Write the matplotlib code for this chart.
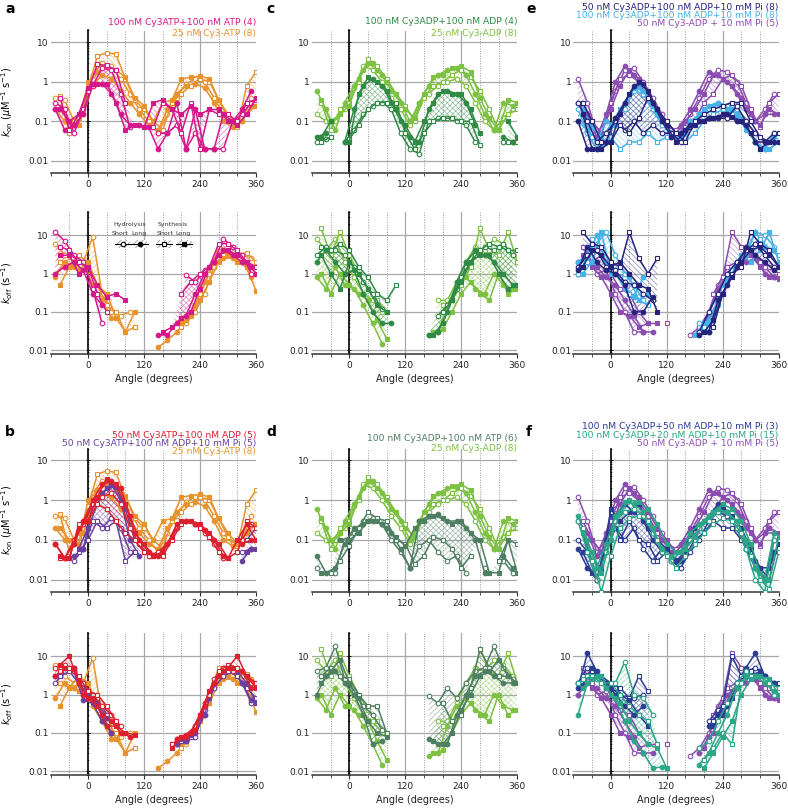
import numpy as np
import matplotlib
matplotlib.use('Agg')
import matplotlib.pyplot as plt
from matplotlib.patches import Rectangle
from matplotlib.ticker import FixedLocator, FixedFormatter, NullLocator, NullFormatter
from numpy import nan

plt.rcParams['font.family'] = ['DejaVu Sans']
plt.rcParams['hatch.linewidth'] = 0.6

# angle grids: hydrolysis (circles) and synthesis (squares)
ang_h = [-70, -50, -30, -10, 10, 30, 50, 70, 90, 110, 130, 150, 170, 190, 210, 230, 250, 270, 290, 310, 330, 350]
ang_s = [-60, -40, -20, 0, 20, 40, 60, 80, 100, 120, 140, 160, 180, 200, 220, 240, 260, 280, 300, 320, 340, 360]

# ---- 25 nM Cy3-ATP (orange)
ora_on_hs = [0.4, 0.35, 0.1, 0.2, 1.5, 3.0, 2.5, 1.2, 0.5, 0.2, 0.1, 0.05, 0.15, 0.4, 0.9, 1.2, 1.0, 0.4, 0.15, 0.08, 0.1, 0.4]
ora_on_hl = [0.2, 0.1, 0.08, 0.15, 0.8, 1.5, 1.2, 0.6, 0.3, 0.15, 0.08, 0.06, 0.2, 0.5, 0.8, 0.9, 0.7, 0.3, 0.1, 0.07, 0.1, 0.25]
ora_on_ss = [0.45, 0.05, 0.12, 0.7, 4.5, 5.5, 5.0, 1.2, 0.35, 0.2, 0.1, 0.06, 0.3, 0.5, 0.8, 1.2, 1.0, 0.35, 0.12, 0.07, 0.8, 1.8]
ora_on_sl = [0.2, 0.1, 0.08, 1.0, 1.8, 2.5, 2.0, 1.3, 0.4, 0.25, 0.1, 0.3, 0.35, 1.2, 1.3, 1.4, 1.2, 0.35, 0.15, 0.08, 0.15, 0.25]
ora_off_hs = [6, 3, 2, 2, 9, 0.3, 0.1, 0.08, 0.1, nan, nan, nan, nan, nan, 0.05, 0.1, 0.3, 1.5, 3, 5, 3, 2.5]
ora_off_hl = [0.8, 2, 1.5, 2, 0.5, 0.2, 0.07, nan, nan, nan, nan, 0.012, 0.018, 0.03, 0.06, 0.15, 0.6, 2, 2.5, 2.5, 2, 0.8]
ora_off_ss = [2, 1.5, 3, 2, 0.5, 0.15, 0.1, 0.03, 0.04, nan, nan, nan, nan, 0.04, 0.08, 0.3, 1, 5, 4, 3, 3.5, 2]
ora_off_sl = [0.5, 1.5, 1.2, 2, 0.5, 0.3, 0.07, 0.03, 0.1, nan, nan, nan, nan, 0.05, 0.08, 0.2, 0.6, 2, 3, 2, 1.5, 0.35]

# ---- 100 nM Cy3ATP+100 nM ATP (magenta)
mag_on_hs = [0.3, 0.2, 0.05, 0.2, 0.8, 2.2, 2.0, 0.5, 0.07, nan, nan, 0.05, 0.05, 0.08, 0.02, 0.05, 0.02, 0.02, 0.02, 0.1, 0.15, 0.3]
mag_on_hl = [0.2, 0.06, 0.08, 0.15, 0.9, 0.9, 0.5, 0.15, 0.08, 0.08, 0.07, 0.02, 0.05, 0.3, 0.02, 0.2, 0.02, 0.02, 0.15, 0.1, 0.2, 0.6]
mag_on_ss = [0.4, 0.06, 0.15, 0.6, 2.8, 2.6, 2.0, 0.3, nan, 0.07, 0.07, 0.3, 0.2, 0.05, 0.3, 0.02, 0.2, 0.15, 0.15, 0.1, 0.3, 0.35]
mag_on_sl = [0.2, 0.1, 0.15, 0.7, 0.9, 0.9, 0.3, 0.06, 0.08, 0.07, 0.3, 0.35, 0.2, 0.15, 0.25, 0.15, 0.2, 0.2, 0.1, 0.08, 0.15, 0.4]
mag_off_hs = [12, 7, 3, 2, 0.4, 0.05, nan, nan, nan, nan, nan, nan, nan, nan, 0.9, 0.6, 1.2, 2, 8, 5, 3, 1]
mag_off_hl = [1, 1.5, 2, 1.2, 0.3, 0.15, nan, nan, nan, nan, nan, 0.025, 0.025, 0.05, 0.08, 0.3, 1, 2, 4, 3, 2, 1.5]
mag_off_ss = [5, 4, 2, 1.5, 0.3, 0.1, nan, nan, nan, nan, nan, nan, nan, 0.3, 0.6, 1, 1.5, 6, 6, 4, 2, 1.5]
mag_off_sl = [3, 3, 1, 1.5, 0.5, 0.25, 0.3, 0.2, nan, nan, nan, 0.03, 0.04, 0.07, 0.1, 0.4, 1.5, 3, 4, 3, 2, 1]

# ---- 50 nM Cy3ATP+100 nM ADP (red)
red_on_hs = [0.08, 0.035, 0.1, 0.25, 0.8, 1.2, 1.5, 0.8, 0.2, 0.08, 0.04, 0.05, 0.08, 0.2, 0.3, 0.25, 0.15, 0.08, 0.035, nan, 0.1, 0.25]
red_on_hl = [0.08, 0.035, 0.08, 0.3, 1.0, 2.5, 3.0, 2.0, 0.4, 0.1, 0.05, 0.04, 0.08, 0.25, 0.3, 0.25, 0.18, 0.1, 0.04, nan, 0.08, 0.1]
red_on_ss = [0.035, 0.035, 0.25, 0.3, 0.8, 0.6, 0.3, 0.15, 0.1, 0.05, 0.04, 0.04, 0.1, 0.25, 0.3, 0.2, 0.12, 0.05, 0.035, 0.05, 0.3, 0.2]
red_on_sl = [0.04, 0.035, 0.2, 0.3, 1.2, 3.5, 2.5, 0.8, 0.15, 0.08, 0.04, 0.05, 0.12, 0.3, 0.3, 0.25, 0.15, 0.08, 0.035, 0.1, 0.25, 0.1]
red_off_hs = [5, 6, 4, 2, 1, 0.5, 0.3, 0.15, nan, nan, nan, nan, nan, 0.07, 0.09, 0.15, 0.6, 2.5, 5, 4, 4, 2]
red_off_hl = [3, 5, 5, 1, 0.8, 0.3, 0.2, 0.1, 0.08, nan, nan, nan, nan, 0.07, 0.08, 0.12, 0.5, 2, 4, 5, 4, 1.5]
red_off_ss = [4, 5, 3, 1.2, 1, 0.5, 0.2, nan, nan, nan, nan, nan, 0.05, 0.08, 0.1, 0.3, 1, 4, 6, 5, 3, 2]
red_off_sl = [6, 10, 2, 0.8, 0.5, 0.15, 0.15, 0.1, 0.09, nan, nan, nan, 0.04, 0.08, 0.1, 0.3, 1.2, 3, 5, 10, 3, 1.5]

# ---- 50 nM Cy3ATP+100 nM ADP+10 mM Pi (violet)
vio_on_hs = [nan, nan, 0.03, 0.06, 0.3, 0.2, 0.35, 0.2, 0.05, nan, nan, nan, nan, nan, nan, nan, nan, nan, nan, nan, 0.05, 0.06]
vio_on_hl = [nan, nan, 0.04, 0.06, 0.8, 1.5, 2.5, 1.0, 0.1, 0.04, nan, nan, nan, nan, nan, nan, nan, nan, nan, nan, 0.03, 0.06]
vio_on_ss = [nan, nan, 0.05, 0.1, 0.3, 0.2, 0.3, 0.03, 0.05, nan, nan, nan, nan, nan, nan, nan, nan, nan, nan, nan, 0.1, 0.2]
vio_on_sl = [nan, nan, 0.06, 0.2, 0.8, 2.0, 2.2, 0.6, 0.1, 0.05, nan, nan, nan, nan, nan, nan, nan, nan, nan, nan, 0.05, 0.06]
vio_off_hs = [2, 4, 5, 1.5, 1, 0.3, 0.1, nan, nan, nan, nan, nan, nan, 0.05, 0.06, 0.08, 0.4, 1.5, 3, 4, 2, 0.6]
vio_off_hl = [3, 5, 4, 0.7, 0.6, 0.2, 0.1, nan, nan, nan, nan, nan, nan, 0.05, 0.06, 0.1, 0.3, 2, 5, 4, 2, 0.7]
vio_off_ss = [3, 4, 2, 1, 0.8, 0.3, nan, nan, nan, nan, nan, nan, 0.05, 0.06, 0.08, 0.3, 1, 3, 4, 3, 1.5, 0.8]
vio_off_sl = [4, 5, 3, 1, 0.6, 0.25, nan, nan, nan, nan, nan, nan, 0.05, 0.07, 0.09, 0.25, 0.8, 3, 5, 4, 2, 0.6]

# ---- 100 nM Cy3ADP+100 nM ADP (dark green)
dg_on_hs = [0.03, 0.035, nan, 0.03, 0.06, 0.15, 0.25, 0.3, 0.2, 0.05, 0.02, 0.015, 0.1, 0.12, 0.12, 0.1, 0.08, 0.03, nan, nan, 0.03, 0.03]
dg_on_hl = [0.04, 0.05, nan, 0.03, 0.2, 0.8, 1.2, 0.8, 0.3, 0.1, 0.04, 0.03, 0.2, 0.5, 0.6, 0.5, 0.3, 0.08, nan, nan, 0.04, 0.03]
dg_on_ss = [0.03, 0.04, nan, 0.035, 0.08, 0.2, 0.3, 0.3, 0.3, 0.05, 0.02, 0.05, 0.1, 0.12, 0.12, 0.1, 0.1, 0.025, nan, nan, 0.03, 0.03]
dg_on_sl = [0.04, 0.1, nan, 0.03, 0.5, 1.3, 1.0, 0.6, 0.2, 0.08, 0.03, 0.1, 0.3, 0.6, 0.5, 0.5, 0.2, 0.05, nan, nan, 0.1, 0.04]
dg_off_hs = [3, 5, 4, 3, 1.5, 0.6, 0.3, 0.12, nan, nan, nan, nan, nan, 0.08, 0.15, 0.4, 1.5, 3, 5, 4, 6, 3]
dg_off_hl = [2, 4, 2, 1, 1.2, 0.3, 0.1, 0.05, 0.05, nan, nan, nan, 0.025, 0.03, 0.1, 0.6, 2, 4, 3, 2, 1, 0.5]
dg_off_ss = [5, 4, 6, 4, 1.5, 0.8, 0.3, 0.2, 0.5, nan, nan, nan, nan, 0.1, 0.2, 0.8, 2, 4, 6, 5, 4, 4]
dg_off_sl = [3, 1, 0.4, 2, 1, 0.4, 0.15, 0.1, nan, nan, nan, nan, 0.025, 0.05, 0.2, 0.6, 2, 3, 3, 1, 0.4, 0.5]

# ---- 25 nM Cy3-ADP (light green)
lg_on_hs = [0.15, 0.1, 0.1, 0.2, 0.7, 2.5, 2.0, 1.0, 0.4, 0.2, 0.08, 0.3, 0.5, 0.8, 1.0, 1.2, 0.8, 0.3, 0.1, 0.06, 0.12, 0.2]
lg_on_hl = [0.6, 0.2, 0.06, 0.3, 0.8, 2.0, 3.0, 1.5, 0.6, 0.3, 0.1, 0.3, 0.8, 1.5, 2.0, 2.2, 1.5, 0.5, 0.15, 0.06, 0.3, 0.25]
lg_on_ss = [0.3, 0.06, 0.2, 0.3, 1.0, 3.8, 2.5, 1.2, 0.5, 0.25, 0.1, 0.4, 0.8, 1.0, 1.5, 2.0, 1.3, 0.6, 0.2, 0.06, 0.15, 0.2]
lg_on_sl = [0.35, 0.1, 0.15, 0.25, 1.2, 3.0, 2.0, 1.0, 0.5, 0.2, 0.12, 0.5, 1.3, 1.5, 2.3, 2.5, 1.8, 0.4, 0.12, 0.06, 0.35, 0.3]
lg_off_hs = [8, 4, 8, 2, 0.8, 0.3, 0.2, 0.1, nan, nan, nan, nan, nan, 0.2, 0.2, 0.6, 2, 5, 4, 8, 6, 3]
lg_off_hl = [0.8, 0.4, 1.5, 0.5, 0.4, 0.15, 0.05, 0.015, nan, nan, nan, nan, 0.025, 0.03, 0.15, 0.5, 0.8, 0.4, 0.3, 1, 0.5, 0.4]
lg_off_ss = [15, 3, 12, 3, 1, 0.4, 0.2, 0.1, nan, nan, nan, nan, nan, 0.15, 0.2, 0.5, 1.5, 15, 4, 3, 12, 2]
lg_off_sl = [1, 0.3, 1, 0.5, 0.3, 0.2, 0.06, 0.02, nan, nan, nan, nan, 0.03, 0.035, 0.1, 0.3, 0.6, 0.3, 0.2, 1, 0.3, 0.4]

# ---- 100 nM Cy3ADP+100 nM ATP (grey green)
gg_on_hs = [0.02, nan, 0.015, 0.1, 0.15, 0.3, 0.35, 0.25, 0.1, 0.05, 0.02, 0.07, 0.1, 0.05, 0.03, 0.04, 0.015, nan, 0.02, nan, 0.03, 0.015]
gg_on_hl = [0.04, 0.015, 0.02, 0.08, 0.2, 0.25, 0.3, 0.25, 0.15, 0.06, 0.02, 0.3, 0.4, 0.45, 0.3, 0.3, 0.2, 0.1, 0.015, nan, 0.04, 0.02]
gg_on_ss = [nan, 0.015, 0.03, 0.07, 0.2, 0.5, 0.35, 0.3, 0.1, 0.08, 0.025, 0.04, 0.12, 0.1, 0.06, 0.02, 0.04, nan, nan, 0.03, 0.1, 0.08]
gg_on_sl = [0.015, nan, 0.1, 0.1, 0.15, 0.3, 0.3, 0.2, 0.12, 0.07, 0.2, 0.3, 0.4, 0.35, 0.25, 0.3, 0.15, 0.1, 0.015, 0.015, 0.1, 0.015]
gg_off_hs = [4, 5, 18, 2.5, 1.2, 0.5, 0.3, 0.12, nan, nan, nan, nan, 0.9, 0.6, 1.5, 0.8, 2, 4, 5, 18, 5, 2.5]
gg_off_hl = [1, 3, 4, 2, 1, 0.3, 0.05, 0.06, nan, nan, nan, nan, 0.07, 0.05, 0.05, 0.3, 1, 3, 4, 3, 2, 2]
gg_off_ss = [3, 5, 3, 2.5, 1, 0.5, 0.5, 0.1, nan, nan, nan, nan, nan, 0.6, 0.2, 0.3, 1.5, 15, 5, 3, 3, 2]
gg_off_sl = [2, 4, 8, 2, 0.8, 0.2, 0.1, 0.08, nan, nan, nan, nan, 0.06, 0.05, 0.1, 0.4, 1, 3, 4, 8, 3, 2]

# ---- 50 nM Cy3ADP+100 nM ADP+10 mM Pi (navy)
nv_on_hs = [0.3, 0.1, 0.03, 0.05, 0.1, 0.06, 0.1, 0.05, 0.08, 0.05, 0.05, 0.03, 0.07, 0.1, 0.12, 0.12, 0.12, 0.25, 0.1, 0.05, 0.03, 0.05]
nv_on_hl = [0.1, 0.02, 0.02, 0.03, 0.12, 0.3, 0.8, 0.9, 0.3, 0.1, 0.04, 0.05, 0.08, 0.1, 0.12, 0.13, 0.15, 0.1, 0.08, 0.03, 0.03, 0.03]
nv_on_ss = [0.3, 0.1, 0.03, 0.03, 0.08, 0.05, 0.12, 0.4, 0.2, 0.1, 0.05, 0.03, 0.1, 0.15, 0.2, 0.25, 0.3, 0.3, 0.1, 0.04, 0.03, 0.05]
nv_on_sl = [0.15, 0.02, 0.02, 0.03, 0.15, 0.5, 1.0, 0.6, 0.2, 0.08, 0.03, 0.06, 0.08, 0.1, 0.12, 0.15, 0.13, 0.1, 0.05, 0.02, 0.03, 0.03]
nv_off_hs = [1.5, 3, 4, 1.5, 1.2, 0.6, 0.5, 0.3, 0.2, nan, nan, nan, nan, 0.03, 0.1, 0.3, 1.0, 2, 4, 6, 3, 1.5]
nv_off_hl = [1.2, 5, 2, 1.2, 1, 0.5, 0.1, 0.1, 0.25, nan, nan, nan, nan, 0.025, 0.03, 0.2, 0.5, 1.5, 5, 3, 2, 1.2]
nv_off_ss = [12, 6, 5, 2, 1.5, 12, 2.5, 1, 2.5, nan, nan, nan, nan, nan, 0.04, 0.3, 1, 1.5, 12, 6, 4, 1.5]
nv_off_sl = [1.5, 4, 3, 1.5, 2, 1, 0.5, 0.4, 0.1, nan, nan, nan, nan, 0.03, 0.06, 0.3, 0.8, 2, 4, 5, 3, 1.5]

# ---- 100 nM Cy3ADP+100 nM ADP+10 mM Pi (light blue)
lb_on_hs = [0.2, 0.05, 0.02, 0.03, 0.1, 0.2, 0.6, 0.5, 0.2, 0.08, 0.05, 0.05, 0.08, 0.15, 0.2, 0.3, 0.25, 0.2, 0.08, 0.03, 0.02, 0.05]
lb_on_hl = [0.1, 0.06, 0.03, 0.1, 0.08, 0.3, 0.7, 0.6, 0.25, 0.1, 0.04, 0.04, 0.1, 0.15, 0.25, 0.3, 0.2, 0.15, 0.06, 0.03, 0.02, 0.04]
lb_on_ss = [0.15, 0.04, 0.02, 0.04, 0.02, 0.03, 0.03, 0.05, 0.03, 0.04, 0.05, 0.03, 0.05, 0.1, 0.15, 0.2, 0.15, 0.1, 0.05, 0.02, 0.02, 0.03]
lb_on_sl = [0.2, 0.07, 0.04, 0.08, 0.2, 0.5, 0.8, 0.4, 0.15, 0.07, 0.04, 0.05, 0.1, 0.2, 0.25, 0.25, 0.2, 0.12, 0.05, 0.02, 0.02, 0.03]
lb_off_hs = [1, 2, 6, 12, 3, 1, 0.5, 0.2, nan, nan, nan, nan, nan, 0.05, 0.03, 0.3, 0.8, 2, 4, 12, 10, 5]
lb_off_hl = [2, 3, 10, 2, 1, 0.4, 0.25, 0.8, nan, nan, nan, nan, nan, 0.03, 0.05, 0.15, 0.7, 2, 3, 12, 5, 4]
lb_off_ss = [1.5, 8, 3, 1.5, 0.8, 0.3, 0.2, 0.15, nan, nan, nan, nan, nan, 0.04, 0.1, 0.4, 1.2, 3, 5, 8, 4, 3]
lb_off_sl = [1, 2, 12, 1, 1.5, 0.8, 0.2, 0.3, nan, nan, nan, nan, 0.025, 0.05, 0.1, 0.3, 1, 3, 2, 4, 12, 2]

# ---- 50 nM Cy3-ADP + 10 mM Pi (purple)
pu_on_hs = [1.2, 0.3, 0.05, 0.1, 0.6, 2.0, 2.2, 1.0, 0.4, 0.15, 0.06, 0.05, 0.15, 0.4, 1.2, 2.0, 1.8, 1.0, 0.3, 0.1, 0.2, 0.5]
pu_on_hl = [0.3, 0.15, 0.04, 0.15, 1.0, 2.5, 1.5, 0.5, 0.2, 0.1, 0.05, 0.08, 0.2, 0.6, 1.8, 1.5, 1.0, 0.5, 0.2, 0.1, 0.15, 0.15]
pu_on_ss = [0.3, 0.1, 0.05, 0.3, 1.2, 1.5, 1.0, 0.4, 0.15, 0.08, 0.06, 0.07, 0.1, 0.3, 0.5, 1.2, 1.5, 0.8, 0.2, 0.07, 0.3, 0.5]
pu_on_sl = [0.2, 0.1, 0.05, 0.2, 0.8, 2.0, 1.2, 0.5, 0.2, 0.1, 0.05, 0.1, 0.2, 0.5, 1.5, 1.2, 0.8, 0.4, 0.15, 0.08, 0.2, 0.15]
pu_off_hs = [2, 3, 1, 1.2, 0.3, 0.1, 0.03, 0.03, nan, nan, nan, nan, 0.025, 0.04, 0.1, 0.5, 1.5, 2, 3, 3, 1.5, 0.8]
pu_off_hl = [1, 2, 1.5, 0.8, 0.5, 0.2, 0.08, 0.03, 0.03, nan, nan, nan, nan, 0.03, 0.08, 0.4, 1, 1.5, 2, 2.5, 1, 0.8]
pu_off_ss = [5, 2, 3, 1, 0.4, 0.3, 0.1, 0.05, nan, 0.05, nan, nan, nan, nan, 0.3, 0.8, 12, 5, 4, 2, 1.5, 1]
pu_off_sl = [3, 1.5, 0.8, 0.3, 0.1, 0.08, 0.04, 0.05, 0.05, nan, nan, nan, nan, 0.04, 0.1, 0.4, 1.2, 2, 3, 1.5, 0.8, 0.7]

# ---- 100 nM Cy3ADP+50 nM ADP+10 mM Pi (navy, f)
nf_on_hs = [0.1, 0.05, 0.01, 0.05, 0.2, 0.1, 0.2, 0.06, 0.03, 0.06, 0.03, 0.02, 0.05, 0.1, 0.3, 0.5, 0.4, 0.2, 0.06, 0.02, 0.01, 0.1]
nf_on_hl = [0.06, 0.02, 0.01, 0.1, 0.4, 0.8, 0.5, 0.3, 0.1, 0.05, 0.04, 0.03, 0.15, 0.2, 0.4, 0.8, 0.5, 0.2, 0.06, 0.03, 0.01, 0.05]
nf_on_ss = [0.15, 0.03, 0.02, 0.5, 0.1, 0.3, 0.1, 0.08, 0.03, 0.05, 0.03, 0.04, 0.1, 0.15, 0.3, 0.2, 0.2, 0.1, 0.05, 0.02, 0.01, 0.1]
nf_on_sl = [0.05, 0.015, 0.02, 0.6, 0.3, 0.5, 0.8, 0.2, 0.1, 0.06, 0.03, 0.05, 0.2, 0.3, 0.5, 0.6, 0.4, 0.2, 0.06, 0.02, 0.02, 0.08]
nf_off_hs = [2, 5, 3, 2, 1.5, 0.8, 0.8, 1, nan, nan, nan, nan, nan, nan, 0.2, 0.4, 0.6, 2, 4, 5, 3, 2]
nf_off_hl = [1.5, 12, 4, 2, 1, 0.5, 0.3, 0.5, nan, nan, nan, nan, nan, nan, 0.15, 0.3, 0.5, 2, 5, 12, 3, 2]
nf_off_ss = [3, 4, 3, 2, 1.5, 0.8, 3, 1.2, nan, nan, nan, nan, nan, nan, 0.2, 0.5, 10, 3, 4, 3, 2, 2]
nf_off_sl = [1.8, 5, 2, 1.5, 1, 0.7, 0.3, 0.15, nan, nan, nan, nan, nan, nan, 0.15, 0.3, 0.8, 2, 3, 4, 2.5, 1.5]

# ---- 100 nM Cy3ADP+20 nM ADP+10 mM Pi (teal)
te_on_hs = [0.3, 0.05, 0.01, 0.05, 0.3, 0.5, 0.6, 0.4, 0.15, 0.05, 0.03, 0.05, 0.1, 0.2, 0.3, 0.5, 0.5, 0.2, 0.06, 0.01, 0.005, 0.1]
te_on_hl = [0.4, 0.1, 0.02, 0.08, 0.4, 0.9, 0.8, 0.5, 0.2, 0.06, 0.04, 0.05, 0.15, 0.25, 0.4, 0.6, 0.5, 0.3, 0.1, 0.02, 0.01, 0.15]
te_on_ss = [0.2, 0.03, 0.005, 0.04, 0.2, 0.35, 0.4, 0.3, 0.1, 0.04, 0.02, 0.04, 0.08, 0.15, 0.25, 0.35, 0.3, 0.15, 0.04, 0.01, 0.006, 0.05]
te_on_sl = [0.15, 0.05, 0.015, 0.1, 0.5, 1.0, 0.9, 0.6, 0.25, 0.08, 0.05, 0.06, 0.12, 0.3, 0.5, 0.8, 0.6, 0.3, 0.08, 0.015, 0.01, 0.12]
te_off_hs = [2, 3, 2.5, 1.5, 2, 7, 1, 0.8, 0.3, nan, nan, nan, nan, 0.04, 0.06, 0.2, 0.6, 2, 4, 3, 2.5, 1]
te_off_hl = [0.3, 2, 3, 1.5, 0.8, 0.2, 0.06, 0.03, 0.012, 0.013, nan, nan, nan, 0.015, 0.03, 0.1, 0.3, 1.5, 3, 3, 2, 1.2]
te_off_ss = [2.5, 3, 2, 2, 1, 0.5, 0.3, 0.2, 0.05, nan, nan, nan, nan, 0.02, 0.04, 0.1, 0.05, 2, 3, 3, 2, 1.5]
te_off_sl = [1.5, 2.5, 3, 1, 0.6, 0.2, 0.1, 0.05, 0.04, 0.012, nan, nan, nan, 0.012, 0.03, 0.08, 0.2, 1, 2.5, 3, 2.5, 1]

# colours
c_ora, c_mag, c_red, c_vio = '#e8922e', '#d6178a', '#dd1f2f', '#6a3fa0'
c_dg, c_lg, c_gg = '#2f8a45', '#7dc142', '#4f7f62'
c_nv, c_lb, c_pu, c_nf, c_te = '#25237c', '#45b2e8', '#8a4cb0', '#2b3a92', '#2ba687'

ora = (c_ora, [ora_on_hs, ora_on_hl, ora_on_ss, ora_on_sl], [ora_off_hs, ora_off_hl, ora_off_ss, ora_off_sl])
mag = (c_mag, [mag_on_hs, mag_on_hl, mag_on_ss, mag_on_sl], [mag_off_hs, mag_off_hl, mag_off_ss, mag_off_sl])
red = (c_red, [red_on_hs, red_on_hl, red_on_ss, red_on_sl], [red_off_hs, red_off_hl, red_off_ss, red_off_sl])
vio = (c_vio, [vio_on_hs, vio_on_hl, vio_on_ss, vio_on_sl], [vio_off_hs, vio_off_hl, vio_off_ss, vio_off_sl])
dg = (c_dg, [dg_on_hs, dg_on_hl, dg_on_ss, dg_on_sl], [dg_off_hs, dg_off_hl, dg_off_ss, dg_off_sl])
lg = (c_lg, [lg_on_hs, lg_on_hl, lg_on_ss, lg_on_sl], [lg_off_hs, lg_off_hl, lg_off_ss, lg_off_sl])
gg = (c_gg, [gg_on_hs, gg_on_hl, gg_on_ss, gg_on_sl], [gg_off_hs, gg_off_hl, gg_off_ss, gg_off_sl])
nv = (c_nv, [nv_on_hs, nv_on_hl, nv_on_ss, nv_on_sl], [nv_off_hs, nv_off_hl, nv_off_ss, nv_off_sl])
lb = (c_lb, [lb_on_hs, lb_on_hl, lb_on_ss, lb_on_sl], [lb_off_hs, lb_off_hl, lb_off_ss, lb_off_sl])
pu = (c_pu, [pu_on_hs, pu_on_hl, pu_on_ss, pu_on_sl], [pu_off_hs, pu_off_hl, pu_off_ss, pu_off_sl])
nf = (c_nf, [nf_on_hs, nf_on_hl, nf_on_ss, nf_on_sl], [nf_off_hs, nf_off_hl, nf_off_ss, nf_off_sl])
te = (c_te, [te_on_hs, te_on_hl, te_on_ss, te_on_sl], [te_off_hs, te_off_hl, te_off_ss, te_off_sl])

# panel label, column, row (0 top / 1 bottom), draw order, legend lines
panels = [
    ('a', 0, 0, [ora, mag], [('100 nM Cy3ATP+100 nM ATP (4)', c_mag), ('25 nM Cy3-ATP (8)', c_ora)]),
    ('b', 0, 1, [ora, vio, red], [('50 nM Cy3ATP+100 nM ADP (5)', c_red), ('50 nM Cy3ATP+100 nM ADP+10 mM Pi (5)', c_vio), ('25 nM Cy3-ATP (8)', c_ora)]),
    ('c', 1, 0, [lg, dg], [('100 nM Cy3ADP+100 nM ADP (4)', c_dg), ('25 nM Cy3-ADP (8)', c_lg)]),
    ('d', 1, 1, [lg, gg], [('100 nM Cy3ADP+100 nM ATP (6)', c_gg), ('25 nM Cy3-ADP (8)', c_lg)]),
    ('e', 2, 0, [pu, lb, nv], [('50 nM Cy3ADP+100 nM ADP+10 mM Pi (8)', c_nv), ('100 nM Cy3ADP+100 nM ADP+10 mM Pi (8)', c_lb), ('50 nM Cy3-ADP + 10 mM Pi (5)', c_pu)]),
    ('f', 2, 1, [pu, nf, te], [('100 nM Cy3ADP+50 nM ADP+10 mM Pi (3)', c_nf), ('100 nM Cy3ADP+20 nM ADP+10 mM Pi (15)', c_te), ('50 nM Cy3-ADP + 10 mM Pi (5)', c_pu)]),
]

W, H = 788.0, 809.0
fig = plt.figure(figsize=(7.88, 8.09), dpi=100)

col_left = [50.7, 312.0, 573.4]
ax_w = 205.3
row_on = [(30.5, 172.7), (448.5, 591.7)]
row_off = [(212.0, 354.0), (633.0, 775.0)]
legend_y = [[22.7, 33.3], [435.0, 443.3, 451.7], [21.7, 33.3], [438.3, 448.3], [7.3, 15.6, 24.0], [426.7, 435.0, 443.3]]


def make_ax(left, top, bottom):
    return fig.add_axes([left / W, 1 - bottom / H, ax_w / W, (bottom - top) / H])


def setup(ax, ylim):
    ax.set_yscale('log')
    ax.set_xlim(-80, 360)
    ax.set_ylim(*ylim)
    for s in ('top', 'right', 'left'):
        ax.spines[s].set_visible(False)
    ax.spines['bottom'].set_color('#333333')
    ax.spines['bottom'].set_linewidth(1.1)
    ax.set_xticks([0, 120, 240, 360])
    ax.set_xticks([-80, -40, 40, 80, 160, 200, 280, 320], minor=True)
    ax.tick_params(axis='x', which='major', length=3, width=0.8, labelsize=6.5, pad=2, color='#333333', labelcolor='#222222')
    ax.tick_params(axis='x', which='minor', length=2, width=0.6, color='#333333')
    ax.yaxis.set_major_locator(FixedLocator([0.01, 0.1, 1, 10]))
    ax.yaxis.set_major_formatter(FixedFormatter(['0.01', '0.1', '1', '10']))
    ax.yaxis.set_minor_locator(NullLocator())
    ax.tick_params(axis='y', length=0, labelsize=6.5, pad=1.5, labelcolor='#222222')
    for v in [0.01, 0.1, 1, 10]:
        ax.axhline(v, color='#a8a8a8', lw=0.9, zorder=0)
    for v in [120, 240]:
        ax.axvline(v, color='#a8a8a8', lw=0.9, zorder=0)
    for v in [-40, 40, 80, 160, 200, 280, 320]:
        ax.axvline(v, color='#9a9a9a', lw=0.7, ls=(0, (1, 1.5)), zorder=0)
    sec = ax.secondary_yaxis(80 / 440)
    sec.spines['left'].set_color('black')
    sec.spines['left'].set_linewidth(1.2)
    sec.tick_params(which='major', direction='inout', length=3.5, width=0.7)
    sec.tick_params(which='minor', direction='inout', length=2, width=0.4)
    sec.yaxis.set_major_formatter(NullFormatter())
    sec.yaxis.set_minor_formatter(NullFormatter())


def draw_cond(ax, color, four):
    hs, hl, ss, sl = [np.array(v, dtype=float) for v in four]
    # hatched spread between short and long dwell estimates
    for grid, a, b, hatch in ((ang_h, hs, hl, '//////'), (ang_s, ss, sl, '\\\\\\\\\\\\')):
        ax.fill_between(grid, np.fmin(a, b), np.fmax(a, b), facecolor='none', edgecolor=color,
                        hatch=hatch, lw=0, alpha=0.45, zorder=1)
    for grid, v, m, filled in ((ang_h, hs, 'o', False), (ang_h, hl, 'o', True),
                               (ang_s, ss, 's', False), (ang_s, sl, 's', True)):
        ax.plot(grid, v, color=color, lw=1.1, marker=m, ms=3.3, mew=0.8,
                mfc=color if filled else 'white', zorder=3)


for i, (lab, col, row, order, leg) in enumerate(panels):
    left = col_left[col]
    ax_on = make_ax(left, *row_on[row])
    ax_off = make_ax(left, *row_off[row])
    setup(ax_on, (0.005, 20))
    setup(ax_off, (0.008, 40))
    for color, on4, off4 in order:
        draw_cond(ax_on, color, on4)
        draw_cond(ax_off, color, off4)
    ax_off.set_xlabel('Angle (degrees)', fontsize=7, labelpad=3, color='#222222')
    if col == 0:
        ax_on.set_ylabel(r'$k_{\mathrm{on}}$ ($\mu$M$^{-1}$ s$^{-1}$)', fontsize=7)
        ax_off.set_ylabel(r'$k_{\mathrm{off}}$ (s$^{-1}$)', fontsize=7)
        ax_on.yaxis.set_label_coords(-0.175, 0.5)
        ax_off.yaxis.set_label_coords(-0.175, 0.5)
    # coloured condition legend
    for (txt, c), y in zip(leg, legend_y[i]):
        fig.text((left + ax_w) / W, 1 - y / H, txt, color=c, fontsize=6.6, ha='right', va='center')
    lab_x = [5, 266, 526][col]
    lab_y = [9, 432][row]
    fig.text(lab_x / W, 1 - lab_y / H, lab, fontsize=10, fontweight='bold', ha='left', va='center')

    if lab == 'a':
        # symbol key inside the first koff panel
        tr = ax_off.transAxes
        ax_off.text(0.386, 0.915, 'Hydrolysis', transform=tr, fontsize=4.5, ha='center', va='center', color='#333333')
        ax_off.text(0.596, 0.915, 'Synthesis', transform=tr, fontsize=4.5, ha='center', va='center', color='#333333')
        for x, t in zip([0.338, 0.43, 0.557, 0.645], ['Short', 'Long', 'Short', 'Long']):
            ax_off.text(x, 0.852, t, transform=tr, fontsize=4.5, ha='center', va='center', color='#333333')
        for x, m, filled in zip([0.352, 0.435, 0.552, 0.65], ['o', 'o', 's', 's'], [False, True, False, True]):
            ax_off.add_patch(Rectangle((x - 0.036, 0.75), 0.072, 0.05, transform=tr, facecolor='white',
                                       edgecolor='#9a9a9a', hatch='//////', lw=0, zorder=4))
            ax_off.plot([x - 0.04, x + 0.04], [0.775, 0.775], transform=tr, color='black', lw=0.8, zorder=5)
            ax_off.plot([x], [0.775], transform=tr, color='black', marker=m, ms=3.2, mew=0.8,
                        mfc='black' if filled else 'white', zorder=6)

fig.savefig('out.png', dpi=100)
